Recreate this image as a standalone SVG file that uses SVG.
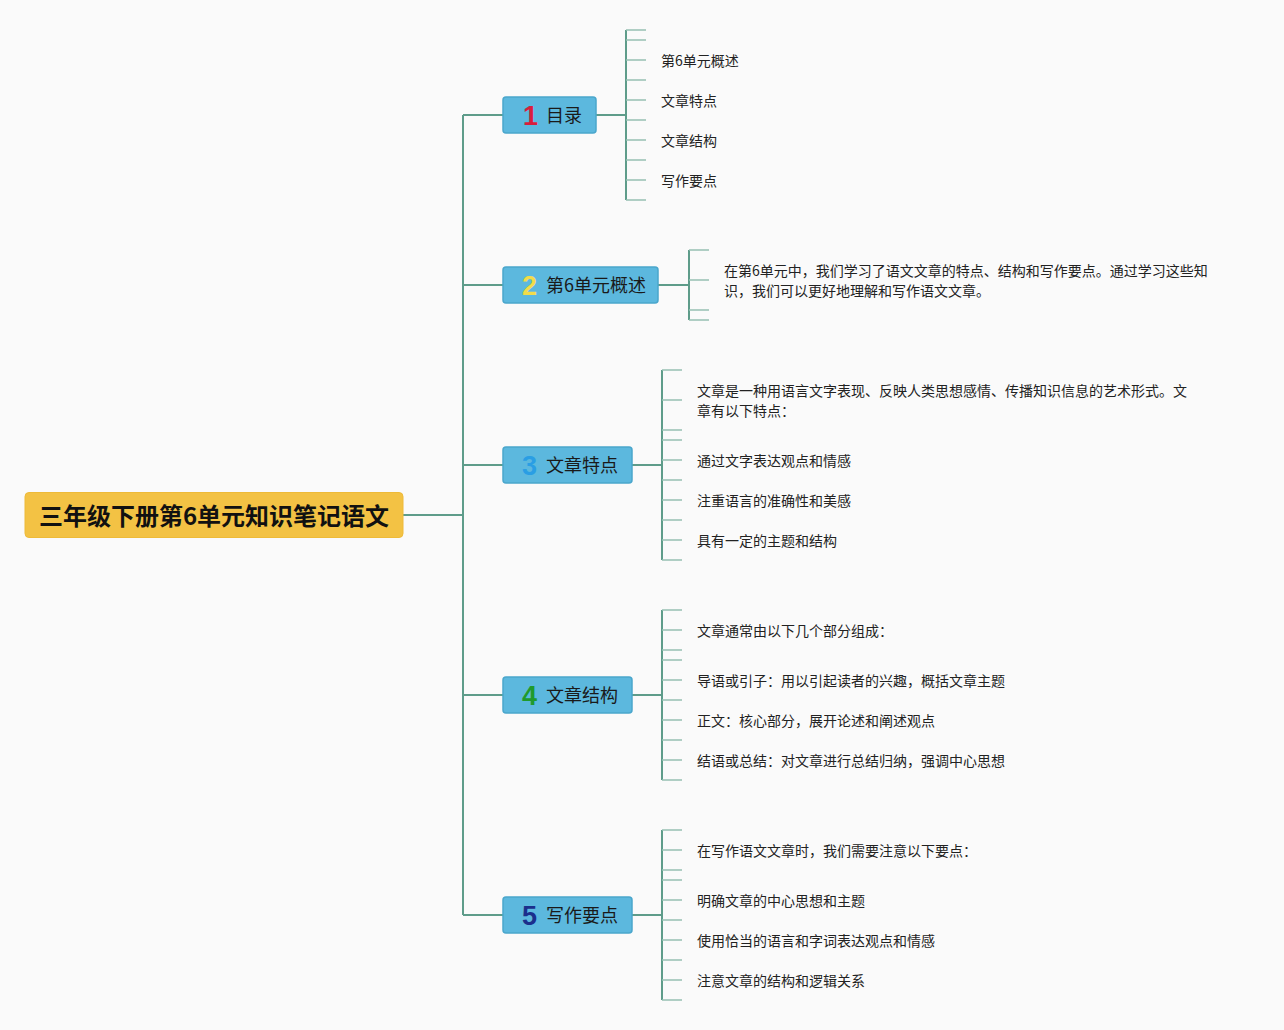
<svg xmlns="http://www.w3.org/2000/svg" width="1284" height="1030" viewBox="0 0 1284 1030">
<style>
.bg{fill:#fafafa}
.main{stroke:#5e9c8a;stroke-width:2;fill:none}
.tick{stroke:#96c0b2;stroke-width:1.5;fill:none}
.node{fill:#5cb8de;stroke:#4aa6cc;stroke-width:1.5}
.root{fill:#f3c244;stroke:#eeba38;stroke-width:1}
.nt{font-family:"Noto Sans CJK SC","Noto Sans",sans-serif;font-size:18px;fill:#1a1a1a}
.num{font-family:"Liberation Sans","Noto Sans",sans-serif;font-size:27px;font-weight:bold}
.rt{font-family:"Noto Sans CJK SC","Noto Sans",sans-serif;font-size:24px;font-weight:bold;fill:#111}
.ct{font-family:"Noto Sans CJK SC","Noto Sans",sans-serif;font-size:14px;fill:#222}
</style>
<rect class="bg" x="0" y="0" width="1284" height="1030"/>
<g id="connectors">
<path class="main" d="M403 515H463M463 115V915M463 115H503M463 285H503M463 465H503M463 695H503M463 915H503"/>
<path class="main" d="M596 115H626M658 285H689M632 465H662M632 695H662M632 915H662"/>
<path class="main" d="M626 30V200M689 250V320M662 370V560M662 610V780M662 830V1000"/>
<path class="tick" d="M626 30H646M626 40H646M626 60H646M626 80H646M626 100H646M626 120H646M626 140H646M626 160H646M626 180H646M626 200H646"/>
<path class="tick" d="M689 250H709M689 280H709M689 310H709M689 320H709"/>
<path class="tick" d="M662 370H682M662 400H682M662 430H682M662 440H682M662 460H682M662 480H682M662 500H682M662 520H682M662 540H682M662 560H682"/>
<path class="tick" d="M662 610H682M662 630H682M662 650H682M662 660H682M662 680H682M662 700H682M662 720H682M662 740H682M662 760H682M662 780H682"/>
<path class="tick" d="M662 830H682M662 850H682M662 870H682M662 880H682M662 900H682M662 920H682M662 940H682M662 960H682M662 980H682M662 1000H682"/>
</g>
<g id="root">
<rect class="root" x="25" y="492.5" width="378" height="45" rx="4"/>
<text class="rt" x="214" y="525" text-anchor="middle">三年级下册第6单元知识笔记语文</text>
</g>
<g id="n1">
<rect class="node" x="503" y="97" width="93" height="36" rx="3"/>
<text class="num" x="523" y="125" fill="#d81e3c">1</text>
<text class="nt" x="546" y="122">目录</text>
</g>
<g id="n2">
<rect class="node" x="503" y="267" width="155" height="36" rx="3"/>
<text class="num" x="522" y="295" fill="#f2dc4a">2</text>
<text class="nt" x="546" y="292">第6单元概述</text>
</g>
<g id="n3">
<rect class="node" x="503" y="447" width="129" height="36" rx="3"/>
<text class="num" x="522" y="475" fill="#2a9ee4">3</text>
<text class="nt" x="546" y="472">文章特点</text>
</g>
<g id="n4">
<rect class="node" x="503" y="677" width="129" height="36" rx="3"/>
<text class="num" x="522" y="705" fill="#1f9a2e">4</text>
<text class="nt" x="546" y="702">文章结构</text>
</g>
<g id="n5">
<rect class="node" x="503" y="897" width="129" height="36" rx="3"/>
<text class="num" x="522" y="925" fill="#1b2f8c">5</text>
<text class="nt" x="546" y="922">写作要点</text>
</g>
<g id="c1">
<text class="ct" x="661" y="66">第6单元概述</text>
<text class="ct" x="661" y="106">文章特点</text>
<text class="ct" x="661" y="146">文章结构</text>
<text class="ct" x="661" y="186">写作要点</text>
</g>
<g id="c2">
<text class="ct" x="724" y="276">在第6单元中，我们学习了语文文章的特点、结构和写作要点。通过学习这些知</text>
<text class="ct" x="724" y="296">识，我们可以更好地理解和写作语文文章。</text>
</g>
<g id="c3">
<text class="ct" x="697" y="396">文章是一种用语言文字表现、反映人类思想感情、传播知识信息的艺术形式。文</text>
<text class="ct" x="697" y="416">章有以下特点：</text>
<text class="ct" x="697" y="466">通过文字表达观点和情感</text>
<text class="ct" x="697" y="506">注重语言的准确性和美感</text>
<text class="ct" x="697" y="546">具有一定的主题和结构</text>
</g>
<g id="c4">
<text class="ct" x="697" y="636">文章通常由以下几个部分组成：</text>
<text class="ct" x="697" y="686">导语或引子：用以引起读者的兴趣，概括文章主题</text>
<text class="ct" x="697" y="726">正文：核心部分，展开论述和阐述观点</text>
<text class="ct" x="697" y="766">结语或总结：对文章进行总结归纳，强调中心思想</text>
</g>
<g id="c5">
<text class="ct" x="697" y="856">在写作语文文章时，我们需要注意以下要点：</text>
<text class="ct" x="697" y="906">明确文章的中心思想和主题</text>
<text class="ct" x="697" y="946">使用恰当的语言和字词表达观点和情感</text>
<text class="ct" x="697" y="986">注意文章的结构和逻辑关系</text>
</g>
</svg>
